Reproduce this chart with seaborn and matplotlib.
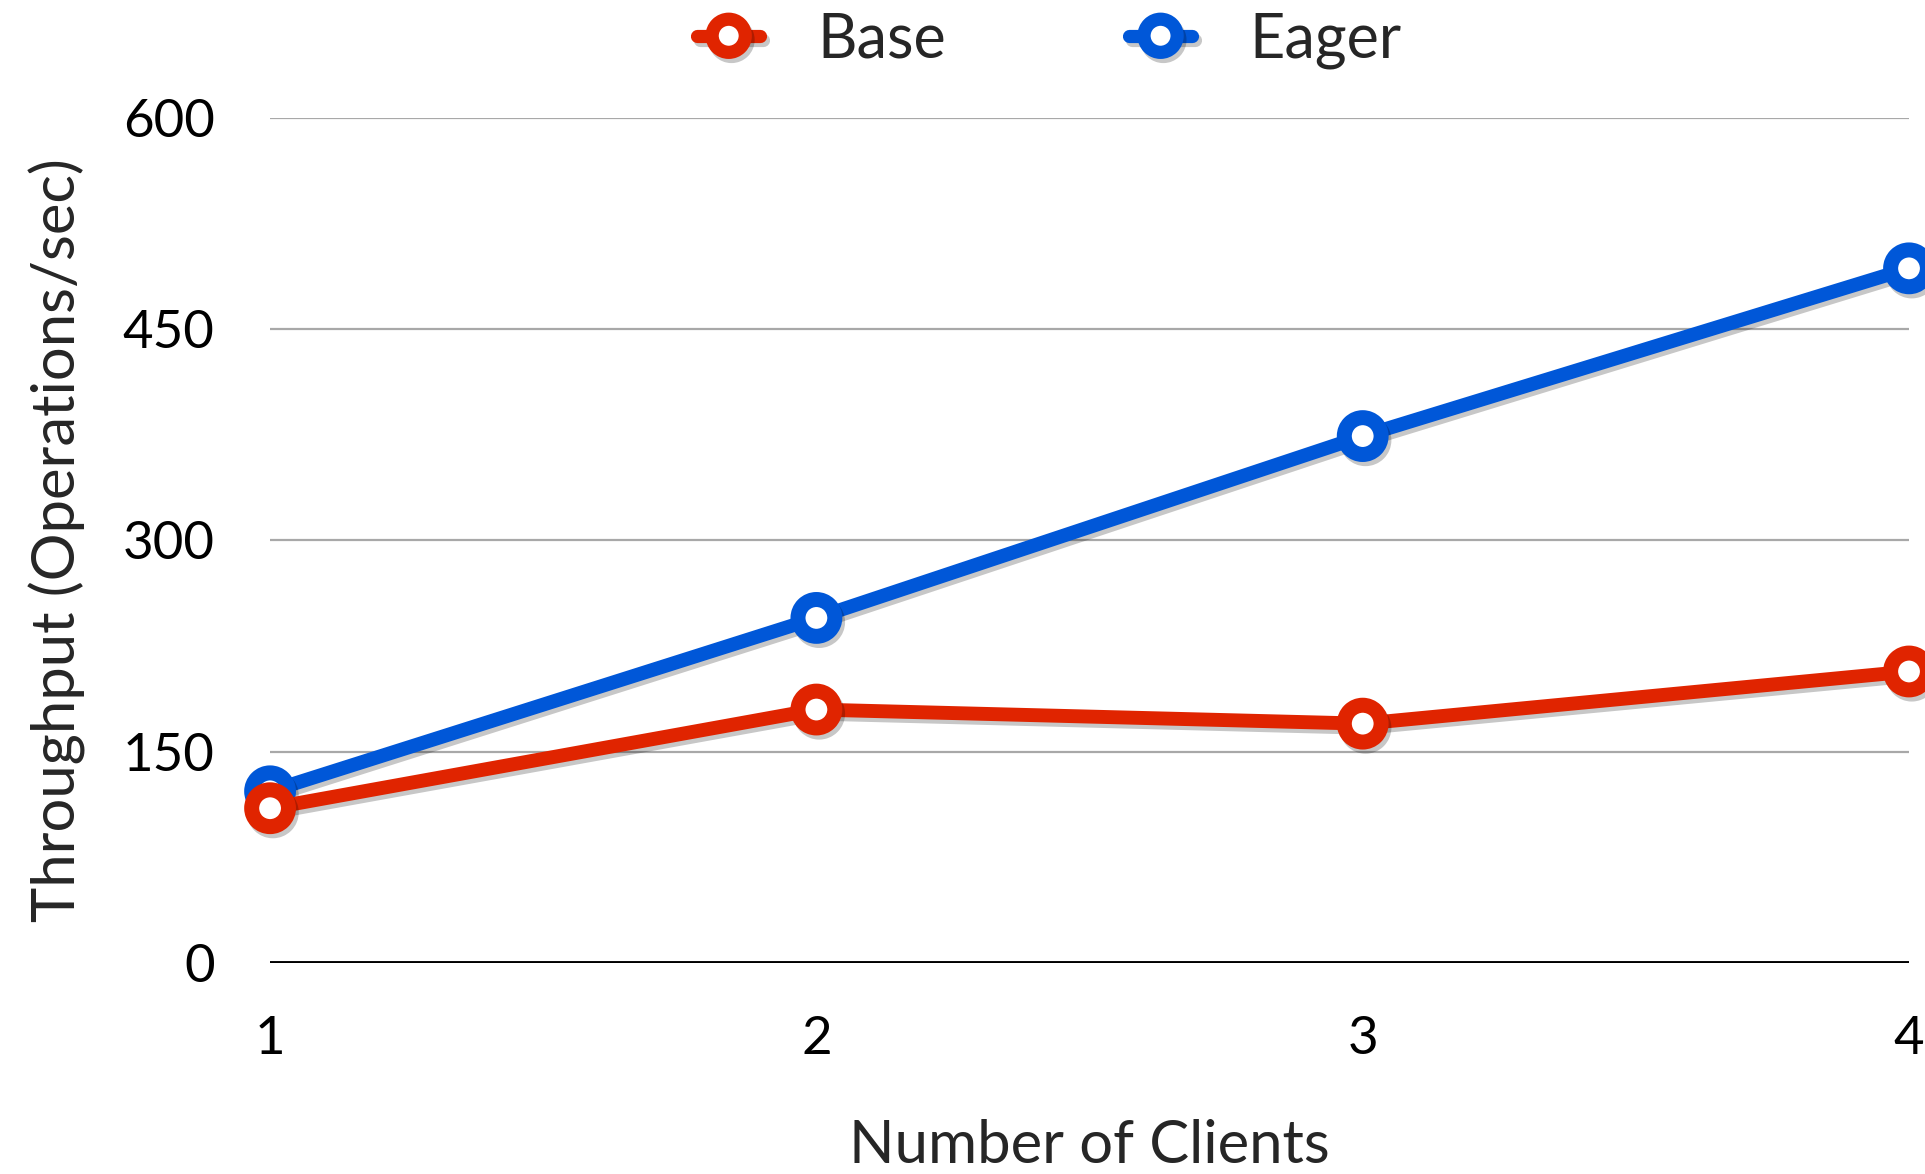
import numpy as np
import pandas as pd
import matplotlib
matplotlib.use("Agg")
import matplotlib.pyplot as plt
import matplotlib.patheffects as pe
import seaborn as sns

clients = [1, 2, 3, 4]
base_throughput = [110, 180, 170, 207]
eager_throughput = [122, 245, 374, 493]
series_names = ["Base", "Eager"]
series_colors = ["#E02400", "#0057D8"]
y_ticks = [0, 150, 300, 450, 600]

sns.set_theme(style="white")
plt.rcParams["font.family"] = ["Lato", "DejaVu Sans"]

df = pd.DataFrame({
    "clients": clients * 2,
    "throughput": base_throughput + eager_throughput,
    "series": [series_names[0]] * 4 + [series_names[1]] * 4,
})

fig = plt.figure(figsize=(19.25, 11.74), dpi=100)
ax = fig.add_axes([0.1403, 0.1795, 0.8514, 0.7204])

shadow = [pe.SimpleLineShadow(offset=(2, -3), shadow_color="black", alpha=0.22),
          pe.Normal()]

# Eager first so that Base sits on top where they meet
for name, color in list(zip(series_names, series_colors))[::-1]:
    sub = df[df["series"] == name]
    sns.lineplot(data=sub, x="clients", y="throughput", ax=ax, color=color,
                 linewidth=10, marker="o", markersize=26.5, markeredgewidth=10.8,
                 markerfacecolor="white", markeredgecolor=color, label=name,
                 clip_on=False, path_effects=shadow, zorder=3)

ax.set_xlim(1, 4)
ax.set_ylim(0, 600)
ax.set_xticks(clients)
ax.set_xticklabels([str(c) for c in clients])
ax.set_yticks(y_ticks)
ax.set_yticklabels([str(v) for v in y_ticks])
ax.tick_params(axis="both", length=0, labelsize=38, colors="black")
ax.tick_params(axis="y", pad=40)
ax.tick_params(axis="x", pad=38)

for v in y_ticks[1:]:
    ax.axhline(v, color="#A8A8A8", linewidth=1.6, zorder=1)
ax.axhline(0, color="black", linewidth=2.8, zorder=1)
for s in ax.spines.values():
    s.set_visible(False)

ax.set_xlabel("Number of Clients", fontsize=43, labelpad=40)
ax.set_ylabel("Throughput (Operations/sec)", fontsize=43, labelpad=26)

handles, labels = ax.get_legend_handles_labels()
order = [labels.index(n) for n in series_names]
ax.get_legend().remove()
leg = fig.legend([handles[i] for i in order], [labels[i] for i in order],
                 loc="center", bbox_to_anchor=(0.545, 0.966), ncol=2,
                 frameon=False, fontsize=44, handlelength=1.03, handletextpad=0.93,
                 columnspacing=3.0, markerscale=0.9)
for h in leg.legend_handles:
    h.set_linewidth(9.5)
    h.set_markeredgewidth(9.5)

fig.savefig("out.png", dpi=100)
